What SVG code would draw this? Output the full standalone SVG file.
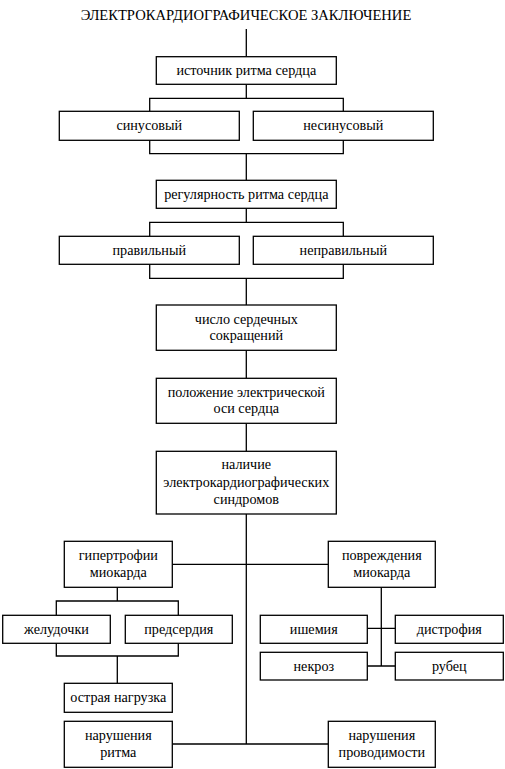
<svg xmlns="http://www.w3.org/2000/svg" width="505" height="769" viewBox="0 0 505 769">
<style>
rect{fill:#fff;stroke:#000;stroke-width:1.3}
text{font-family:"Liberation Serif","Times New Roman",serif;font-size:14.2px;fill:#000;text-anchor:middle}
.t{font-size:14.6px}
#connectors path{fill:none;stroke:#000;stroke-width:1.3}
</style>
<rect x="0" y="0" width="505" height="769" style="stroke:none"/>
<text class="t" x="246" y="20">ЭЛЕКТРОКАРДИОГРАФИЧЕСКОЕ ЗАКЛЮЧЕНИЕ</text>
<g id="connectors">
<path d="M246.3 29V56.7M246.3 84.3V98.3M149.7 111.3V98.3H343.3V111.3M149.7 140.3V153.7H343.3V140.3M246.3 153.7V180.3"/>
<path d="M246.3 208.3V222.3M149.7 236.3V222.3H343.3V236.3M149.7 264.3V278.3H343.3V264.3M246.3 278.3V305M246.3 350.3V378.3M246.3 423.3V451.3"/>
<path d="M246.3 514V744M172.3 564.3H328.3M172.3 744H328.3"/>
<path d="M117.3 587.3V601M56.3 615.3V601H178.3V615.3M56.3 643.3V656H178.3V643.3M117.3 656V683.3"/>
<path d="M381.3 587.3V666M367.3 628.3H395.3M367.3 666H395.3"/>
</g>
<g id="n1"><rect x="156.3" y="56.7" width="180" height="27.6"/><text x="246.3" y="75.3">источник ритма сердца</text></g>
<g id="n2"><rect x="59.3" y="111.3" width="180" height="29"/><text x="149.3" y="129.7">синусовый</text></g>
<g id="n3"><rect x="253.3" y="111.3" width="180" height="29"/><text x="343.3" y="129.7">несинусовый</text></g>
<g id="n4"><rect x="156.3" y="180.3" width="180" height="28"/><text x="246.3" y="198.7">регулярность ритма сердца</text></g>
<g id="n5"><rect x="59.3" y="236.3" width="180" height="28"/><text x="149.3" y="254.7">правильный</text></g>
<g id="n6"><rect x="253.3" y="236.3" width="180" height="28"/><text x="343.3" y="254.7">неправильный</text></g>
<g id="n7"><rect x="156.3" y="305" width="180" height="45.3"/><text x="246.3" y="323.5">число сердечных</text><text x="246.3" y="340.2">сокращений</text></g>
<g id="n8"><rect x="156.3" y="378.3" width="180" height="45"/><text x="246.3" y="396.7">положение электрической</text><text x="246.3" y="413.4">оси сердца</text></g>
<g id="n9"><rect x="156.3" y="451.3" width="180" height="62.7"/><text x="246.3" y="469.3">наличие</text><text x="246.3" y="486.5">электрокардиографических</text><text x="246.3" y="503.5">синдромов</text></g>
<g id="n10"><rect x="64.3" y="541.3" width="108" height="46"/><text x="118.3" y="559.5">гипертрофии</text><text x="118.3" y="576.7">миокарда</text></g>
<g id="n11"><rect x="328.3" y="541.3" width="107" height="46"/><text x="381.8" y="559.5">повреждения</text><text x="381.8" y="576.7">миокарда</text></g>
<g id="n12"><rect x="2.7" y="615.3" width="107.6" height="28"/><text x="56.5" y="633.7">желудочки</text></g>
<g id="n13"><rect x="125.3" y="615.3" width="107" height="28"/><text x="178.8" y="633.7">предсердия</text></g>
<g id="n14"><rect x="260.3" y="615.3" width="107" height="28"/><text x="313.8" y="633.7">ишемия</text></g>
<g id="n15"><rect x="395.3" y="615.3" width="108" height="28"/><text x="449.3" y="633.7">дистрофия</text></g>
<g id="n16"><rect x="260.3" y="652.3" width="107" height="27.7"/><text x="313.8" y="670.7">некроз</text></g>
<g id="n17"><rect x="395.3" y="652.3" width="108" height="27.7"/><text x="449.3" y="670.7">рубец</text></g>
<g id="n18"><rect x="64.3" y="683.3" width="108" height="29"/><text x="118.3" y="701.7">острая нагрузка</text></g>
<g id="n19"><rect x="64.3" y="721.3" width="108" height="46"/><text x="118.3" y="739.5">нарушения</text><text x="118.3" y="756.7">ритма</text></g>
<g id="n20"><rect x="328.3" y="721.3" width="107" height="46"/><text x="381.8" y="739.5">нарушения</text><text x="381.8" y="756.7">проводимости</text></g>
</svg>
